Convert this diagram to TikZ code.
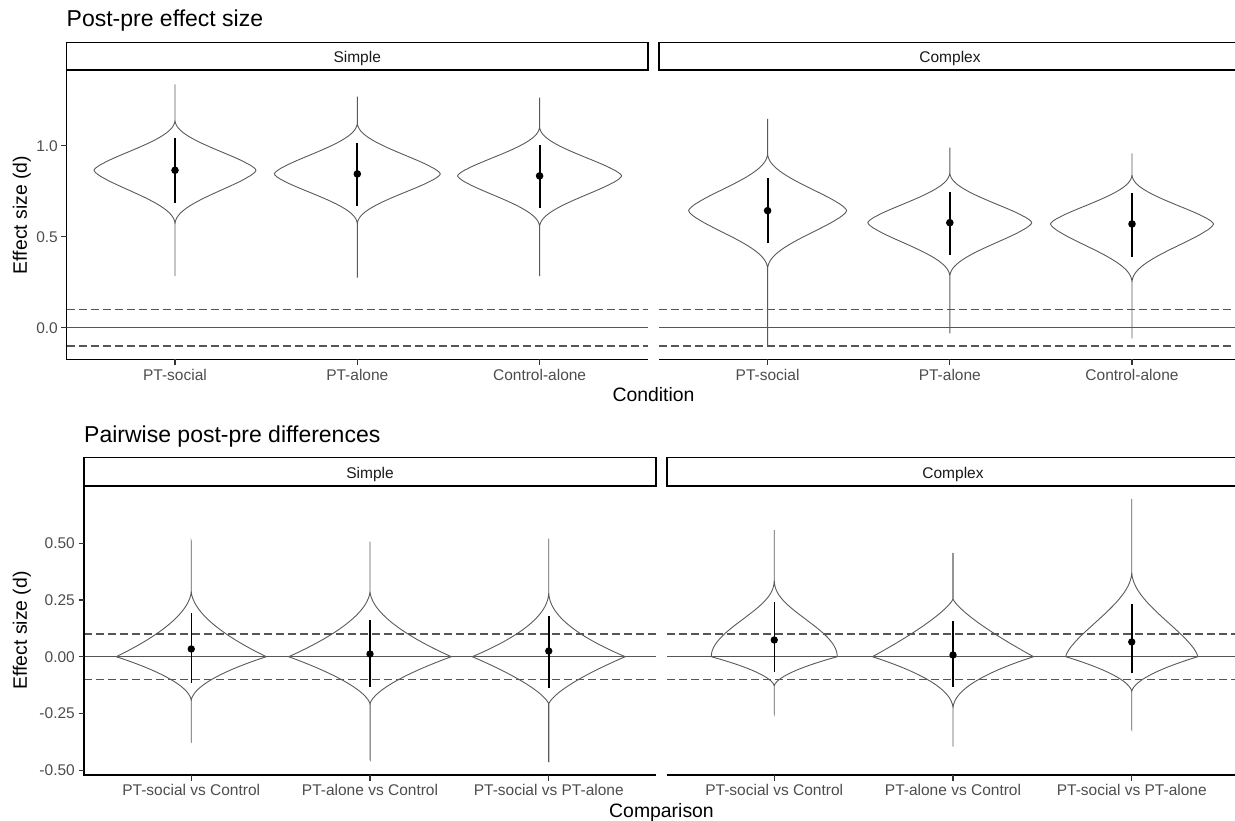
\documentclass[tikz,border=0pt]{standalone}
\usepackage{fontspec}
\setmainfont{Liberation Sans}
\usepackage[usenames,dvipsnames]{xcolor}
\usepackage{tikz}

\definecolor{ticktext}{HTML}{4D4D4D}
\definecolor{tickmark}{HTML}{333333}
\definecolor{refgray}{HTML}{555555}
\definecolor{violingray}{HTML}{5A5A5A}

% violin outline: x, mode, half width, {c,r,q} upper side, {c,r,q} lower side, low end, high end
\newcommand{\violin}[7]{%
  \draw[violinline]
    plot[domain=#6:#2, samples=80, variable=\v] ({#1+#3*vw(abs((#2)-(\v)),#5)}, {\yz-\ys*\v})
    -- plot[domain=#2:#7, samples=80, variable=\v] ({#1+#3*vw(abs((\v)-(#2)),#4)}, {\yz-\ys*\v})
    -- plot[domain=#7:#2, samples=80, variable=\v] ({#1-#3*vw(abs((\v)-(#2)),#4)}, {\yz-\ys*\v})
    -- plot[domain=#2:#6, samples=80, variable=\v] ({#1-#3*vw(abs((#2)-(\v)),#5)}, {\yz-\ys*\v})
    -- cycle;}

\begin{document}
\begin{tikzpicture}[x=1pt, y=-1pt,
  declare function={vw(\d,\c,\r,\q)=pow(max(0.01,1-pow(\d/\c+0.00001,\r)),\q);},
  title/.style={font=\fontsize{23}{27}\selectfont, inner sep=0, text=black},
  axistitle/.style={font=\fontsize{19.4}{22}\selectfont, inner sep=0, text=black},
  ticklabel/.style={font=\fontsize{15.5}{18}\selectfont, inner sep=0, text=ticktext},
  striptext/.style={font=\fontsize{15.5}{18}\selectfont, inner sep=0, text=black!90, anchor=base},
  strip/.style={draw=black, line width=1.6pt, fill=white},
  axisline/.style={draw=black, line width=1.6pt},
  tick/.style={draw=tickmark, line width=1.3pt},
  zeroline/.style={draw=refgray, line width=1.3pt},
  refline/.style={draw=refgray, line width=1.3pt, dash pattern=on 8pt off 4pt},
  violinline/.style={draw=violingray, line width=0.9pt},
  pointrange/.style={draw=black, line width=2pt},
  pointrangethin/.style={draw=black, line width=1.5pt}]

% page size
\useasboundingbox (0,0) rectangle (1235,821);
\clip (0,0) rectangle (1235,821);

%%%%%%%%%% top plot: post-pre effect size %%%%%%%%%%
\def\yz{327.7}\def\ys{182}

% title
\node[title, anchor=base west] (topTitle) at (66.5,27) {Post-pre effect size};

% strip simple
\draw[strip] (66.5,42.7) rectangle (648,70.3);
\node[striptext] (topSimple) at (357.2,62.5) {Simple};

% strip complex
\draw[strip] (659,42.7) rectangle (1241,70.3);
\node[striptext] (topComplex) at (950,62.5) {Complex};

% reference lines simple
\draw[zeroline] (66.5,{\yz}) -- (648,{\yz});
\draw[refline] (66.5,{\yz-\ys*0.1}) -- (648,{\yz-\ys*0.1});
\draw[refline] (66.5,{\yz+\ys*0.1}) -- (648,{\yz+\ys*0.1});

% reference lines complex
\draw[zeroline] (659,{\yz}) -- (1241,{\yz});
\draw[refline] (659,{\yz-\ys*0.1}) -- (1241,{\yz-\ys*0.1});
\draw[refline] (659,{\yz+\ys*0.1}) -- (1241,{\yz+\ys*0.1});

% axes
\draw[axisline] (66.5,70.3) -- (66.5,359.3) -- (648,359.3);
\draw[axisline] (659,359.3) -- (1241,359.3);

% y ticks
\draw[tick] (61,{\yz-\ys*1}) -- (66.5,{\yz-\ys*1});
\node[ticklabel, anchor=east] (topYa) at (58,{\yz-\ys*1}) {1.0};
\draw[tick] (61,{\yz-\ys*0.5}) -- (66.5,{\yz-\ys*0.5});
\node[ticklabel, anchor=east] (topYb) at (58,{\yz-\ys*0.5}) {0.5};
\draw[tick] (61,{\yz}) -- (66.5,{\yz});
\node[ticklabel, anchor=east] (topYc) at (58,{\yz}) {0.0};

% x ticks simple
\draw[tick] (175,359.3) -- (175,364.8);
\node[ticklabel, anchor=base] (topXa) at (175,380) {PT-social};
\draw[tick] (357.3,359.3) -- (357.3,364.8);
\node[ticklabel, anchor=base] (topXb) at (357.3,380) {PT-alone};
\draw[tick] (539.6,359.3) -- (539.6,364.8);
\node[ticklabel, anchor=base] (topXc) at (539.6,380) {Control-alone};

% x ticks complex
\draw[tick] (767.6,359.3) -- (767.6,364.8);
\node[ticklabel, anchor=base] (topXd) at (767.6,380) {PT-social};
\draw[tick] (949.8,359.3) -- (949.8,364.8);
\node[ticklabel, anchor=base] (topXe) at (949.8,380) {PT-alone};
\draw[tick] (1132,359.3) -- (1132,364.8);
\node[ticklabel, anchor=base] (topXf) at (1132,380) {Control-alone};

% axis titles
\node[axistitle, anchor=base] (topXtitle) at (653.5,401.5) {Condition};
\node[axistitle, anchor=base, rotate=90] (topYtitle) at (27,215) {Effect size (d)};

% violins simple
\violin{175}{0.865}{81}{0.28,1.5,2.27}{0.30,1.5,2.27}{0.284}{1.337}
\violin{357.3}{0.845}{83}{0.285,1.5,2.27}{0.28,1.5,2.27}{0.275}{1.27}
\violin{539.6}{0.834}{82}{0.275,1.5,2.27}{0.285,1.5,2.27}{0.284}{1.264}

% violins complex
\violin{767.6}{0.643}{79}{0.32,1.5,2.27}{0.325,1.5,2.27}{-0.10}{1.147}
\violin{949.8}{0.577}{82}{0.28,1.5,2.27}{0.30,1.5,2.27}{-0.031}{0.989}
\violin{1132}{0.57}{81.5}{0.275,1.5,2.27}{0.325,1.5,2.27}{-0.058}{0.958}

% point ranges simple
\draw[pointrange] (175,{\yz-\ys*0.687}) -- (175,{\yz-\ys*1.04});
\fill (175,{\yz-\ys*0.865}) circle (3.8);
\draw[pointrange] (357.3,{\yz-\ys*0.67}) -- (357.3,{\yz-\ys*1.013});
\fill (357.3,{\yz-\ys*0.845}) circle (3.8);
\draw[pointrange] (539.6,{\yz-\ys*0.66}) -- (539.6,{\yz-\ys*1.004});
\fill (539.6,{\yz-\ys*0.834}) circle (3.8);

% point ranges complex
\draw[pointrange] (767.6,{\yz-\ys*0.464}) -- (767.6,{\yz-\ys*0.82});
\fill (767.6,{\yz-\ys*0.643}) circle (3.8);
\draw[pointrange] (949.8,{\yz-\ys*0.40}) -- (949.8,{\yz-\ys*0.744});
\fill (949.8,{\yz-\ys*0.577}) circle (3.8);
\draw[pointrange] (1132,{\yz-\ys*0.39}) -- (1132,{\yz-\ys*0.742});
\fill (1132,{\yz-\ys*0.57}) circle (3.8);

%%%%%%%%%% bottom plot: pairwise post-pre differences %%%%%%%%%%
\def\yz{656.7}\def\ys{227}

% title
\node[title, anchor=base west] (botTitle) at (84,442.3) {Pairwise post-pre differences};

% strip simple
\draw[strip] (84,457.5) rectangle (656,486);
\node[striptext] (botSimple) at (370,478.3) {Simple};

% strip complex
\draw[strip] (667,457.5) rectangle (1239,486);
\node[striptext] (botComplex) at (953,478.3) {Complex};

% reference lines simple
\draw[zeroline] (84,{\yz}) -- (656,{\yz});
\draw[refline] (84,{\yz-\ys*0.1}) -- (656,{\yz-\ys*0.1});
\draw[refline] (84,{\yz+\ys*0.1}) -- (656,{\yz+\ys*0.1});

% reference lines complex
\draw[zeroline] (667,{\yz}) -- (1239,{\yz});
\draw[refline] (667,{\yz-\ys*0.1}) -- (1239,{\yz-\ys*0.1});
\draw[refline] (667,{\yz+\ys*0.1}) -- (1239,{\yz+\ys*0.1});

% axes
\draw[axisline] (84,486) -- (84,775) -- (656,775);
\draw[axisline] (667,775) -- (1239,775);

% y ticks
\draw[tick] (78.5,{\yz-\ys*0.5}) -- (84,{\yz-\ys*0.5});
\node[ticklabel, anchor=east] (botYa) at (75,{\yz-\ys*0.5}) {0.50};
\draw[tick] (78.5,{\yz-\ys*0.25}) -- (84,{\yz-\ys*0.25});
\node[ticklabel, anchor=east] (botYb) at (75,{\yz-\ys*0.25}) {0.25};
\draw[tick] (78.5,{\yz}) -- (84,{\yz});
\node[ticklabel, anchor=east] (botYc) at (75,{\yz}) {0.00};
\draw[tick] (78.5,{\yz+\ys*0.25}) -- (84,{\yz+\ys*0.25});
\node[ticklabel, anchor=east] (botYd) at (75,{\yz+\ys*0.25}) {-0.25};
\draw[tick] (78.5,{\yz+\ys*0.5}) -- (84,{\yz+\ys*0.5});
\node[ticklabel, anchor=east] (botYe) at (75,{\yz+\ys*0.5}) {-0.50};

% x ticks simple
\draw[tick] (191.25,775) -- (191.25,780.5);
\node[ticklabel, anchor=base] (botXa) at (191.25,795) {PT-social vs Control};
\draw[tick] (370,775) -- (370,780.5);
\node[ticklabel, anchor=base] (botXb) at (370,795) {PT-alone vs Control};
\draw[tick] (548.75,775) -- (548.75,780.5);
\node[ticklabel, anchor=base] (botXc) at (548.75,795) {PT-social vs PT-alone};

% x ticks complex
\draw[tick] (774.25,775) -- (774.25,780.5);
\node[ticklabel, anchor=base] (botXd) at (774.25,795) {PT-social vs Control};
\draw[tick] (953,775) -- (953,780.5);
\node[ticklabel, anchor=base] (botXe) at (953,795) {PT-alone vs Control};
\draw[tick] (1131.75,775) -- (1131.75,780.5);
\node[ticklabel, anchor=base] (botXf) at (1131.75,795) {PT-social vs PT-alone};

% axis titles
\node[axistitle, anchor=base] (botXtitle) at (661.5,817) {Comparison};
\node[axistitle, anchor=base, rotate=90] (botYtitle) at (27,630.5) {Effect size (d)};

% violins simple
\violin{191.25}{0}{75}{0.29,1,1.8}{0.195,1,1.8}{-0.374}{0.507}
\violin{370}{0}{81.3}{0.29,1,1.8}{0.21,1,1.6}{-0.452}{0.504}
\violin{548.75}{0}{76.5}{0.285,1,2}{0.21,1,1.45}{-0.463}{0.52}

% violins complex
\violin{774.25}{0}{63}{0.345,2,2.68}{0.13,1,1.7}{-0.247}{0.558}
\violin{953}{0}{80.6}{0.255,1,1.31}{0.23,1,2}{-0.396}{0.455}
\violin{1131.75}{0}{66}{0.375,1.5,2.03}{0.155,1,1.74}{-0.32}{0.695}

% point ranges simple
\draw[pointrangethin] (191.25,{\yz+\ys*0.115}) -- (191.25,{\yz-\ys*0.194});
\fill (191.25,{\yz-\ys*0.034}) circle (3.7);
\draw[pointrangethin] (370,{\yz+\ys*0.132}) -- (370,{\yz-\ys*0.162});
\fill (370,{\yz-\ys*0.012}) circle (3.7);
\draw[pointrangethin] (548.75,{\yz+\ys*0.14}) -- (548.75,{\yz-\ys*0.179});
\fill (548.75,{\yz-\ys*0.025}) circle (3.7);

% point ranges complex
\draw[pointrangethin] (774.25,{\yz+\ys*0.066}) -- (774.25,{\yz-\ys*0.242});
\fill (774.25,{\yz-\ys*0.0736}) circle (3.7);
\draw[pointrangethin] (953,{\yz+\ys*0.132}) -- (953,{\yz-\ys*0.157});
\fill (953,{\yz-\ys*0.0075}) circle (3.7);
\draw[pointrangethin] (1131.75,{\yz+\ys*0.073}) -- (1131.75,{\yz-\ys*0.232});
\fill (1131.75,{\yz-\ys*0.065}) circle (3.7);

\end{tikzpicture}
\end{document}
